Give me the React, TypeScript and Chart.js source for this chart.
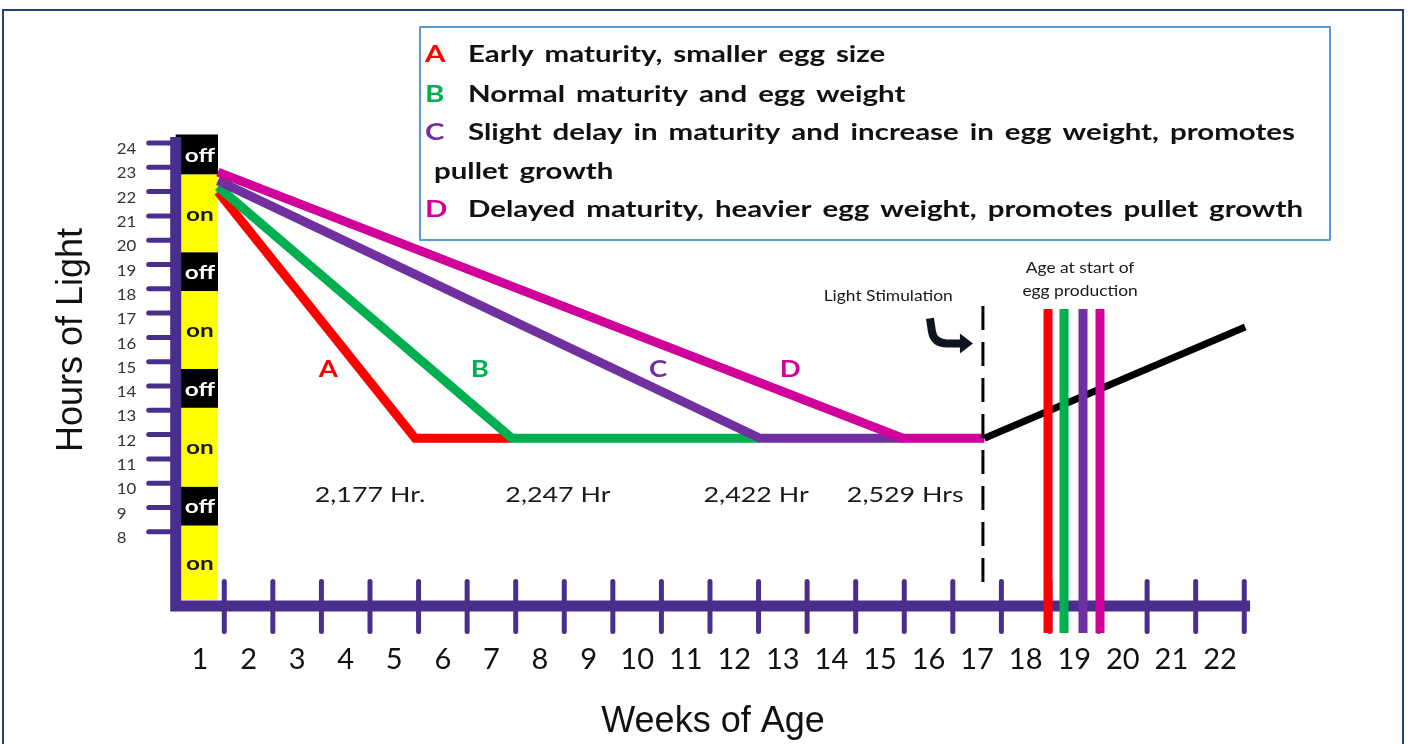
import React, { useEffect, useRef } from 'react';
import { Chart, registerables } from 'chart.js';

Chart.register(...registerables);

// ---------- data ----------
const weekLabels = ['1', '2', '3', '4', '5', '6', '7', '8', '9', '10', '11', '12', '13', '14', '15', '16', '17', '18', '19', '20', '21', '22'];
const hourTicks = [24, 23, 22, 21, 20, 19, 18, 17, 16, 15, 14, 13, 12, 11, 10, 9, 8];
const lightStates = ['off', 'on', 'off', 'on', 'off', 'on', 'off', 'on'];
const lightStateEdges = [24.35, 22.7, 19.5, 17.9, 14.7, 13.1, 9.85, 8.25, 5.2];

const programLetters = ['A', 'B', 'C', 'D'];
const programColors = ['#ff0000', '#00b050', '#7030a0', '#d1009b'];
const programDescriptions = [
  'Early maturity, smaller egg size',
  'Normal maturity and egg weight',
  'Slight delay in maturity and increase in egg weight, promotes',
  'Delayed maturity, heavier egg weight, promotes pullet growth',
];
const programDescriptionWrap = 'pullet growth';

const weeksA = [1.37, 5.43, 7.42];
const hoursA = [22.0, 11.85, 11.85];
const weeksB = [1.37, 7.42, 12.53];
const hoursB = [22.2, 11.85, 11.85];
const weeksC = [1.37, 12.53, 15.47];
const hoursC = [22.45, 11.85, 11.85];
const weeksD = [1.37, 15.47, 17.15];
const hoursD = [22.8, 11.85, 11.85];

const totalLightHours = ['2,177 Hr.', '2,247 Hr', '2,422 Hr', '2,529 Hrs'];

const stimulationWeeks = [17.15, 22.52];
const stimulationHours = [11.85, 16.43];
const lightStimulationWeek = 17.12;
const onsetWeeks = [18.46, 18.79, 19.18, 19.53];

// ---------- styling constants ----------
const AXIS_COLOR = '#4a2e8e';
const CALIBRI = 'Lato, "Open Sans", sans-serif';
const ARIAL = '"Liberation Sans", Arial, sans-serif';

const pts = (xs: number[], ys: number[]) => xs.map((x, i) => ({ x, y: ys[i] }));

function drawText(
  ctx: CanvasRenderingContext2D,
  text: string,
  x: number,
  y: number,
  font: string,
  color: string,
  align: CanvasTextAlign = 'center',
  stretch = 1,
  wordSpacing = '0px',
) {
  ctx.save();
  ctx.font = font;
  ctx.fillStyle = color;
  ctx.textBaseline = 'middle';
  ctx.textAlign = align;
  (ctx as any).wordSpacing = wordSpacing;
  ctx.translate(x, y);
  ctx.scale(stretch, 1);
  ctx.fillText(text, 0, 0);
  ctx.restore();
}

const diagramPlugin = {
  id: 'diagram',
  beforeDraw(chart: any) {
    const { ctx } = chart;
    ctx.save();
    ctx.fillStyle = '#ffffff';
    ctx.fillRect(0, 0, chart.width, chart.height);
    ctx.strokeStyle = '#24426f';
    ctx.lineWidth = 2;
    ctx.strokeRect(3, 10, 1400, 760);
    ctx.restore();
  },
  beforeDatasetsDraw(chart: any) {
    const { ctx } = chart;
    const xs = chart.scales.x;
    const ys = chart.scales.y;
    const axisX = xs.getPixelForValue(0.5);
    const axisY = ys.getPixelForValue(4.95);
    const barRight = xs.getPixelForValue(1.37);
    ctx.save();

    // on / off light bar
    for (let i = 0; i < lightStates.length; i++) {
      const top = ys.getPixelForValue(lightStateEdges[i]);
      const bot = ys.getPixelForValue(lightStateEdges[i + 1]);
      const off = lightStates[i] === 'off';
      ctx.fillStyle = off ? '#000000' : '#ffff00';
      ctx.fillRect(axisX, top, barRight - axisX, bot - top);
      drawText(ctx, lightStates[i], (axisX + 6 + barRight) / 2, (top + bot) / 2 + 1,
        `bold 19px ${CALIBRI}`, off ? '#ffffff' : '#1a1a1a', 'center', 1.28);
    }

    // y tick marks + labels
    ctx.strokeStyle = AXIS_COLOR;
    ctx.lineWidth = 5;
    ctx.lineCap = 'round';
    for (const h of hourTicks) {
      const y = ys.getPixelForValue(h);
      ctx.beginPath();
      ctx.moveTo(axisX - 27, y);
      ctx.lineTo(axisX, y);
      ctx.stroke();
      drawText(ctx, String(h), axisX - 59, y + 6, `16px ${CALIBRI}`, '#333333', 'left', 1.05);
    }

    // x tick marks
    for (let i = 0; i < weekLabels.length; i++) {
      const x = xs.getPixelForValue(i + 1.5);
      ctx.beginPath();
      ctx.moveTo(x, ys.getPixelForValue(5.95));
      ctx.lineTo(x, ys.getPixelForValue(3.9));
      ctx.stroke();
    }

    // axis lines
    ctx.lineWidth = 11;
    ctx.lineCap = 'butt';
    ctx.lineJoin = 'miter';
    ctx.beginPath();
    ctx.moveTo(axisX, ys.getPixelForValue(24.25));
    ctx.lineTo(axisX, axisY);
    ctx.lineTo(xs.getPixelForValue(22.62), axisY);
    ctx.stroke();

    // x tick labels
    for (let i = 0; i < weekLabels.length; i++) {
      const x = xs.getPixelForValue(i + 1);
      drawText(ctx, weekLabels[i], x, ys.getPixelForValue(2.72), `29px ${CALIBRI}`, '#111111', 'center', 1.0);
    }
    ctx.restore();
  },
  afterDraw(chart: any) {
    const { ctx } = chart;
    const xs = chart.scales.x;
    const ys = chart.scales.y;
    ctx.save();

    // curve letters
    const letterWeeks = [3.64, 6.76, 10.43, 13.15];
    programLetters.forEach((l, i) => {
      drawText(ctx, l, xs.getPixelForValue(letterWeeks[i]), ys.getPixelForValue(14.66),
        `bold 22px ${CALIBRI}`, programColors[i], 'center', 1.25);
    });

    // total hour labels
    const hourLabelWeeks = [4.5, 8.37, 12.45, 15.52];
    totalLightHours.forEach((t, i) => {
      drawText(ctx, t, xs.getPixelForValue(hourLabelWeeks[i]), ys.getPixelForValue(9.5),
        `22px ${CALIBRI}`, '#1a1a1a', 'center', 1.22);
    });

    // light stimulation text + arrow
    drawText(ctx, 'Light Stimulation', xs.getPixelForValue(15.17), ys.getPixelForValue(17.7),
      `15px ${CALIBRI}`, '#1a1a1a', 'center', 1.16);
    drawText(ctx, 'Age at start of', xs.getPixelForValue(19.12), ys.getPixelForValue(18.86),
      `15px ${CALIBRI}`, '#1a1a1a', 'center', 1.16);
    drawText(ctx, 'egg production', xs.getPixelForValue(19.12), ys.getPixelForValue(17.9),
      `15px ${CALIBRI}`, '#1a1a1a', 'center', 1.16);

    const ax = xs.getPixelForValue(lightStimulationWeek);
    const ay = ys.getPixelForValue(16.78);
    ctx.strokeStyle = '#0d1520';
    ctx.fillStyle = '#0d1520';
    ctx.lineWidth = 8;
    ctx.lineCap = 'butt';
    ctx.lineJoin = 'round';
    ctx.beginPath();
    ctx.moveTo(ax - 53, ay);
    ctx.lineTo(ax - 51, ay + 13);
    ctx.quadraticCurveTo(ax - 49, ay + 25, ax - 36, ay + 25);
    ctx.lineTo(ax - 20, ay + 25);
    ctx.stroke();
    ctx.beginPath();
    ctx.moveTo(ax - 23, ay + 15);
    ctx.lineTo(ax - 10, ay + 25);
    ctx.lineTo(ax - 23, ay + 35);
    ctx.closePath();
    ctx.fill();

    // legend box
    ctx.fillStyle = '#ffffff';
    ctx.fillRect(420, 27, 910, 213);
    ctx.strokeStyle = '#5b9bd5';
    ctx.lineWidth = 2;
    ctx.strokeRect(420, 27, 910, 213);
    const rowY = [55, 95, 133, 210];
    programLetters.forEach((l, i) => {
      drawText(ctx, l, 425, rowY[i], `bold 23px ${CALIBRI}`, programColors[i], 'left', 1.28);
      drawText(ctx, programDescriptions[i], 468, rowY[i], `bold 23px ${CALIBRI}`, '#111111', 'left', 1.28, '3px');
    });
    drawText(ctx, programDescriptionWrap, 434, 172, `bold 23px ${CALIBRI}`, '#111111', 'left', 1.28, '3px');

    // axis titles
    drawText(ctx, 'Weeks of Age', 713, 722, `36px ${ARIAL}`, '#111111', 'center', 1.0);
    ctx.save();
    ctx.translate(72, 340);
    ctx.rotate(-Math.PI / 2);
    drawText(ctx, 'Hours of Light', 0, 0, `36px ${ARIAL}`, '#111111', 'center', 1.0);
    ctx.restore();

    ctx.restore();
  },
};

export default function App() {
  const canvasRef = useRef<HTMLCanvasElement | null>(null);

  useEffect(() => {
    if (!canvasRef.current) return;
    const lineDs = (label: string, data: any[], color: string, width: number, order: number, extra: any = {}) => ({
      label,
      data,
      borderColor: color,
      backgroundColor: color,
      borderWidth: width,
      showLine: true,
      pointRadius: 0,
      borderCapStyle: 'butt',
      borderJoinStyle: 'miter',
      fill: false,
      tension: 0,
      order,
      ...extra,
    });

    const datasets: any[] = [
      lineDs('A', pts(weeksA, hoursA), programColors[0], 9, 5),
      lineDs('B', pts(weeksB, hoursB), programColors[1], 9, 4),
      lineDs('C', pts(weeksC, hoursC), programColors[2], 9, 3),
      lineDs('D', pts(weeksD, hoursD), programColors[3], 9, 2),
      lineDs('Stimulation', pts(stimulationWeeks, stimulationHours), '#000000', 7, 1),
      lineDs('Light stimulation', [{ x: lightStimulationWeek, y: 5.93 }, { x: lightStimulationWeek, y: 17.46 }], '#000000', 3, 1, { borderDash: [24, 12] }),
      ...onsetWeeks.map((w, i) =>
        lineDs('Onset ' + programLetters[i], [{ x: w, y: 3.84 }, { x: w, y: 17.17 }], programColors[i], 9, 0)),
    ];

    const chart = new Chart(canvasRef.current, {
      type: 'scatter',
      data: { datasets },
      options: {
        responsive: false,
        animation: false,
        devicePixelRatio: 1,
        layout: { padding: { left: 151.43, right: 90.9, top: 94.4, bottom: 66.4 } },
        scales: {
          x: { type: 'linear', min: 0, max: 24, display: false },
          y: { type: 'linear', min: 2, max: 26, display: false },
        },
        plugins: { legend: { display: false }, tooltip: { enabled: false } },
        events: [],
      },
      plugins: [diagramPlugin],
    } as any);
    return () => chart.destroy();
  }, []);

  return (
    <div style={{ position: 'absolute', left: 0, top: 0, width: 1408, height: 744 }}>
      <canvas ref={canvasRef} width={1408} height={744} style={{ width: 1408, height: 744, display: 'block' }} />
    </div>
  );
}
